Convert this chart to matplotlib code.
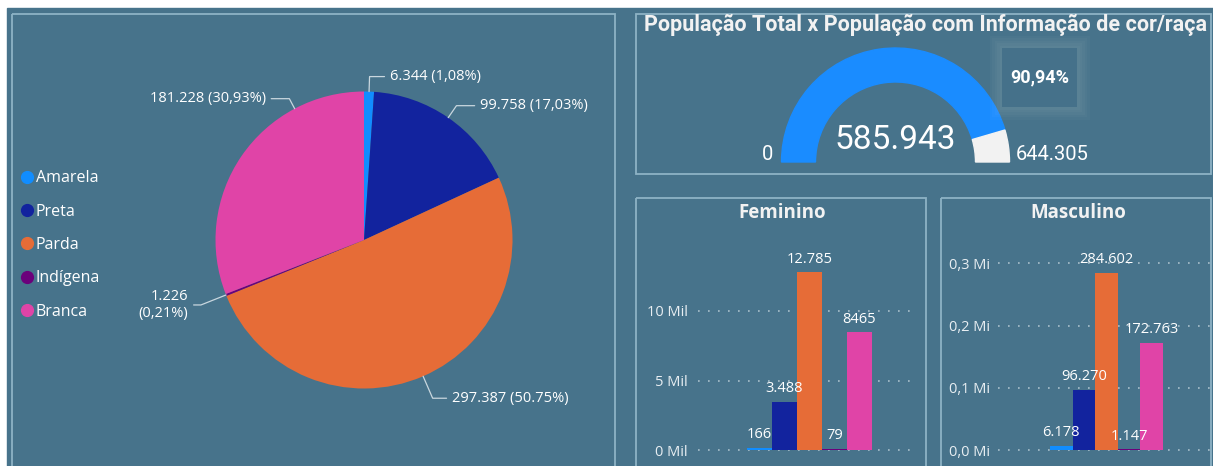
import numpy as np
import matplotlib.pyplot as plt
from matplotlib.patches import Rectangle, Wedge
from matplotlib.lines import Line2D

# dados
categorias = ['Amarela', 'Preta', 'Parda', 'Indígena', 'Branca']
cores = ['#118DFF', '#12239E', '#E66C37', '#6B007B', '#E044A7']

pop_cor = [6344, 99758, 297387, 1226, 181228]
rotulos_pizza = ['6.344 (1,08%)', '99.758 (17,03%)', '297.387 (50.75%)',
                 '1.226\n(0,21%)', '181.228 (30,93%)']

pop_total = 644305
pop_informada = 585943

feminino = [166, 3488, 12785, 79, 8465]
rotulos_fem = ['166', '3.488', '12.785', '79', '8465']
ticks_fem = [0, 5000, 10000]
ticklabels_fem = ['0 Mil', '5 Mil', '10 Mil']

masculino = [6178, 96270, 284602, 1147, 172763]
rotulos_masc = ['6.178', '96.270', '284.602', '1.147', '172.763']
ticks_masc = [0, 100000, 200000, 300000]
ticklabels_masc = ['0,0 Mi', '0,1 Mi', '0,2 Mi', '0,3 Mi']

W, H = 1213, 466
fundo = '#47738B'
borda = '#8DB3C5'
fonte = ['Open Sans', 'DejaVu Sans']
estreita = ['Roboto', 'DejaVu Sans']
plt.rcParams['font.family'] = fonte


def px(x0, y0, x1, y1):
    return [x0 / W, 1 - y1 / H, (x1 - x0) / W, (y1 - y0) / H]


def fmt(n):
    return f'{n:,}'.replace(',', '.')


fig = plt.figure(figsize=(W / 100, H / 100), dpi=100)
fig.patch.set_facecolor('white')

# fundo e paineis (coordenadas em pixels)
bg = fig.add_axes([0, 0, 1, 1], zorder=-1)
bg.set_xlim(0, W)
bg.set_ylim(H, 0)
bg.axis('off')
bg.add_patch(Rectangle((7, 8), W, H, color=fundo))
for x0, y0, x1, y1 in [(12, 14, 615, 470), (636, 14, 1211, 174),
                       (636, 198, 926, 470), (941, 198, 1211, 470)]:
    bg.add_patch(Rectangle((x0, y0), x1 - x0, y1 - y0, fill=False, ec=borda, lw=1.3))

# pizza
R = 148.5
cx, cy = 364, 240
s = 2 * R * 1.25
axp = fig.add_axes(px(cx - s / 2, cy - s / 2, cx + s / 2, cy + s / 2))
wedges, _ = axp.pie(pop_cor, colors=cores, startangle=90, counterclock=False, radius=1)

pos_ancora = [0.5, 0.5, 0.5, 0.5, 0.25]
desloc = [(21, 15), (32, 12), (29, -22), (-38, -10), (-29, 10)]
for w, txt, f, (dx, dy) in zip(wedges, rotulos_pizza, pos_ancora, desloc):
    ang = w.theta1 + f * (w.theta2 - w.theta1)
    a = np.radians(ang)
    esq = dx > 0
    axp.annotate(txt, xy=(np.cos(a), np.sin(a)), xytext=(dx, dy), textcoords='offset pixels',
                 ha='left' if esq else 'right', va='center', multialignment='right',
                 color='white', fontsize=10.5,
                 arrowprops=dict(arrowstyle='-', color='#C9D7DF', lw=0.9, shrinkA=2, shrinkB=0,
                                 relpos=(0 if esq else 1, 0.5),
                                 connectionstyle=f'angle,angleA=0,angleB={ang},rad=0'))

handles = [Line2D([], [], ls='', marker='o', ms=8.5, color=c) for c in cores]
fig.legend(handles, categorias, loc='center left', bbox_to_anchor=(22 / W, 1 - 245 / H),
           frameon=False, labelcolor='white', fontsize=11.5, handlelength=0.6,
           handletextpad=0.25, labelspacing=1.08, borderaxespad=0, borderpad=0)

# medidor
gx, gy, r_ext, r_int = 895.5, 162, 114, 80
frac = pop_informada / pop_total
bg.add_patch(Wedge((gx, gy), r_ext, 180, 180 + 180 * frac, width=r_ext - r_int, color='#1A8CFF'))
bg.add_patch(Wedge((gx, gy), r_ext, 180 + 180 * frac, 360, width=r_ext - r_int, color='#F2F2F2'))
bg.text(926, 25, 'População Total x População com Informação de cor/raça', ha='center',
        va='center', color='#F2F2F2', fontsize=15.5, fontweight='bold', family=estreita)
bg.text(gx, 140, fmt(pop_informada), ha='center', va='center', color='white',
        fontsize=24, family=estreita)
bg.text(768, 155, '0', ha='center', va='center', color='white', fontsize=14.5, family=estreita)
bg.text(1016, 155, fmt(pop_total), ha='left', va='center', color='white', fontsize=14.5,
        family=estreita)
for k in range(5):
    g = 2.5 * (k + 1)
    bg.add_patch(Rectangle((1002 - g, 48 - g), 75 + 2 * g, 59 + 2 * g, color='white',
                           alpha=0.025, lw=0))
bg.add_patch(Rectangle((1002, 48), 75, 59, color='#45718A', lw=0))
bg.text(1039.5, 77, f'{frac * 100:.2f}%'.replace('.', ','), ha='center', va='center',
        color='white', fontsize=13, fontweight='bold', family=estreita)


# barras
def barras(caixa, valores, rotulos, ticks, ticklabels, escala, bw, centro, pad, titulo, tx):
    x0, y0, x1, y1 = caixa
    ax = fig.add_axes(px(x0, y0, x1, y1))
    x = np.arange(len(valores))
    ax.bar(x, valores, width=1.0, color=cores)
    ax.set_xlim((x0 - centro) / bw + 2, (x1 - centro) / bw + 2)
    ax.set_ylim(-(y1 - 450) / escala, (450 - y0) / escala)
    ax.set_yticks(ticks)
    ax.set_yticklabels(ticklabels)
    ax.set_xticks([])
    ax.tick_params(axis='y', length=0, pad=pad, labelcolor='#E8EEF2', labelsize=10.5)
    for sp in ax.spines.values():
        sp.set_visible(False)
    ax.patch.set_alpha(0)
    ax.grid(axis='y', color='#A9BFCB', ls=(0, (1, 5)), lw=1.2)
    ax.set_axisbelow(True)
    for xi, v, t in zip(x, valores, rotulos):
        ax.annotate(t, (xi, v), xytext=(0, 7), textcoords='offset points', ha='center',
                    va='baseline', color='white', fontsize=10.5)
    bg.text(tx, 213, titulo, ha='center', va='center', color='#F2F2F2', fontsize=13.5,
            fontweight='bold')


barras((698, 240, 918, 455), feminino, rotulos_fem, ticks_fem, ticklabels_fem,
       13.9 / 1000, 25, 809.5, 7.2, 'Feminino', 782)
barras((998, 240, 1210, 455), masculino, rotulos_masc, ticks_masc, ticklabels_masc,
       62.2 / 100000, 22.6, 1106.5, 5.8, 'Masculino', 1078)

fig.savefig('out.png', dpi=100, facecolor=fig.get_facecolor())
